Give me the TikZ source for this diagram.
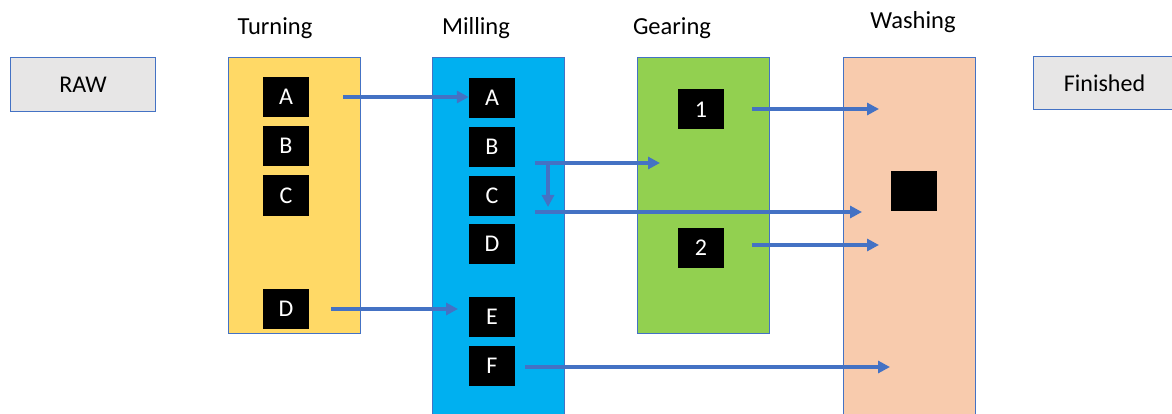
\documentclass[tikz,border=0pt]{standalone}
\usepackage{fontspec}
\setmainfont{Carlito}
\usetikzlibrary{arrows.meta}
\definecolor{lnblue}{HTML}{4472C4}
\definecolor{yel}{HTML}{FFD966}
\definecolor{cyn}{HTML}{00B0F0}
\definecolor{grn}{HTML}{92D050}
\definecolor{pch}{HTML}{F8CBAD}
\definecolor{gry}{HTML}{E7E6E6}
\begin{document}
\begin{tikzpicture}[x=1pt,y=-1pt,
  col/.style={draw=lnblue, line width=1.1pt, anchor=north west, minimum width=132pt, inner sep=0pt},
  endbox/.style={draw=lnblue, line width=1.1pt, fill=gry, anchor=north west, minimum height=54pt, inner sep=0pt, font=\fontsize{24}{28}\selectfont},
  blk/.style={fill=black, text=white, minimum width=46pt, minimum height=40pt, inner sep=0pt, font=\fontsize{24}{28}\selectfont},
  ttl/.style={font=\fontsize{24.5}{28}\selectfont, inner sep=0pt},
  arr/.style={draw=lnblue, line width=3.2pt, -{Triangle[length=12pt,width=12pt]}}
]
\clip (0,0) rectangle (1172,414);
\fill[white] (0,0) rectangle (1172,414);
% end boxes
\node[endbox, minimum width=145pt] (raw) at (10,57) {RAW};
\node[endbox, minimum width=150pt, minimum height=53pt] (fin) at (1033,56) {\hspace*{-8pt}Finished};
% columns
\node[col, fill=yel, minimum height=276pt] (turn) at (228,57) {};
\node[col, fill=cyn, minimum height=380pt] (mill) at (432,57) {};
\node[col, fill=grn, minimum height=276pt] (gear) at (637,57) {};
\node[col, fill=pch, minimum height=380pt] (wash) at (843,57) {};
% titles
\node[ttl] (tturn) at (275,28) {Turning};
\node[ttl] (tmill) at (476,28) {Milling};
\node[ttl] (tgear) at (672,28) {Gearing};
\node[ttl] (twash) at (913,22) {Washing};
% turning boxes
\node[blk] (tA) at (286,97) {A};
\node[blk] (tB) at (286,146) {B};
\node[blk] (tC) at (286,195.5) {C};
\node[blk] (tD) at (286,309) {D};
% milling boxes
\node[blk] (mA) at (492,98) {A};
\node[blk] (mB) at (492,147) {B};
\node[blk] (mC) at (492,196) {C};
\node[blk] (mD) at (492,244) {D};
\node[blk] (mE) at (492,317) {E};
\node[blk] (mF) at (492,366) {F};
% gearing boxes
\node[blk] (g1) at (701,109.5) {1};
\node[blk] (g2) at (701,247.5) {2};
% washing box
\node[blk] (w1) at (914,191.5) {};
% connector ends
\coordinate (s1) at (343,97);
\coordinate (s2) at (331,309);
\coordinate (e2) at (458,309);
\coordinate (s3) at (535,163);
\coordinate (e3) at (660,163);
\coordinate (s4) at (548,163);
\coordinate (e4) at (548,207);
\coordinate (s5) at (535,212);
\coordinate (e5) at (862,212);
\coordinate (s6) at (752,109);
\coordinate (e6) at (879,109);
\coordinate (s7) at (752,245);
\coordinate (e7) at (879,245);
\coordinate (s8) at (525,367);
\coordinate (e8) at (890,367);
\draw[arr] (s1) -- (mA.west |- s1);
\draw[arr] (s2) -- (e2);
\draw[arr] (s3) -- (e3);
\draw[arr] (s4) -- (e4);
\draw[arr] (s5) -- (e5);
\draw[arr] (s6) -- (e6);
\draw[arr] (s7) -- (e7);
\draw[arr] (s8) -- (e8);
\end{tikzpicture}
\end{document}
